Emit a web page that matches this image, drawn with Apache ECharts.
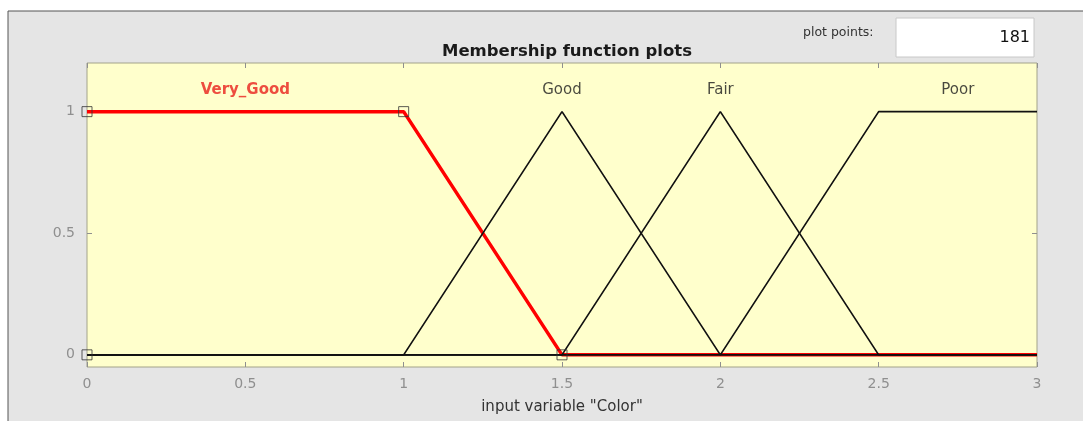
<!DOCTYPE html>
<html>
<head>
<meta charset="utf-8">
<script src="https://cdn.jsdelivr.net/npm/echarts@6.0.0/dist/echarts.min.js"></script>
<style>
  html, body { margin: 0; padding: 0; background: #fff; }
  #root { width: 1083px; height: 421px; }
</style>
</head>
<body>
<div id="root"></div>
<script>
// membership functions of input variable "Color"
const veryGood = [[0, 1], [1, 1], [1.5, 0], [3, 0]]
const good = [[0, 0], [1, 0], [1.5, 1], [2, 0], [3, 0]]
const fair = [[0, 0], [1.5, 0], [2, 1], [2.5, 0], [3, 0]]
const poor = [[0, 0], [2, 0], [2.5, 1], [3, 1]]
// handles of the selected MF
const handles = [[0, 0], [0, 1], [1, 1], [1.5, 0]]
// MF name labels
const mfNames = ['Good', 'Fair', 'Poor']
const mfLabelX = [1.5, 2, 2.75]
const selectedName = 'Very_Good'
const selectedLabelX = 0.5
const labelY = 1.087
const tickValues = [0, 0.5, 1]
const plotPoints = '181'

const font = '"DejaVu Sans", "Liberation Sans", Arial, sans-serif'
const tickColor = '#8f8f8f'
const frameColor = '#a3a38a'

const chart = echarts.init(document.getElementById('root'))

const blackLine = (name, data) => ({
  name,
  type: 'line',
  data,
  symbol: 'none',
  z: 3,
  lineStyle: { color: '#111', width: 1.7 },
  silent: true
})

const tick = { show: true, inside: true, length: 5, lineStyle: { color: tickColor } }

const option = {
  animation: false,
  backgroundColor: '#fff',
  graphic: [
    {
      type: 'rect',
      shape: { x: 8, y: 11, width: 1090, height: 420 },
      style: { fill: '#e5e5e5', stroke: '#555', lineWidth: 1 },
      z: -10
    },
    {
      type: 'text',
      left: 803, top: 26,
      style: { text: 'plot points:', fontFamily: font, fontSize: 12.5, fill: '#333' }
    },
    {
      type: 'rect',
      shape: { x: 896, y: 18, width: 138, height: 39 },
      style: { fill: '#fff', stroke: '#c8c8c8', lineWidth: 1 }
    },
    {
      type: 'text',
      right: 1083 - 1030, top: 30,
      style: { text: plotPoints, fontFamily: font, fontSize: 16, fill: '#111' }
    }
  ],
  title: {
    text: 'Membership function plots',
    left: 562,
    top: 38,
    textAlign: 'center',
    textStyle: { fontFamily: font, fontSize: 16.5, fontWeight: 'bold', color: '#1a1a1a' }
  },
  grid: {
    left: 87, right: 46, top: 63, bottom: 54,
    show: true,
    backgroundColor: '#ffffcc',
    borderColor: frameColor,
    borderWidth: 1
  },
  xAxis: [
    {
      type: 'value', min: 0, max: 3, interval: 0.5,
      name: 'input variable "Color"',
      nameLocation: 'middle',
      nameGap: 33,
      nameTextStyle: { fontFamily: font, fontSize: 15, color: '#333' },
      axisLine: { show: false, onZero: false },
      axisTick: tick,
      axisLabel: { fontFamily: font, fontSize: 14, color: tickColor, margin: 10 },
      splitLine: { show: false }
    },
    {
      type: 'value', min: 0, max: 3, interval: 0.5, position: 'top',
      axisLine: { show: false, onZero: false },
      axisTick: tick,
      axisLabel: { show: false },
      splitLine: { show: false }
    }
  ],
  yAxis: [
    {
      type: 'value', min: -0.05, max: 1.2,
      axisLine: { show: false, onZero: false },
      axisTick: Object.assign({ customValues: tickValues }, tick),
      axisLabel: { fontFamily: font, fontSize: 14, color: tickColor, margin: 12, customValues: tickValues },
      splitLine: { show: false }
    },
    {
      type: 'value', min: -0.05, max: 1.2, position: 'right',
      axisLine: { show: false, onZero: false },
      axisTick: Object.assign({ customValues: tickValues }, tick),
      axisLabel: { show: false },
      splitLine: { show: false }
    }
  ],
  series: [
    {
      name: selectedName,
      type: 'line',
      data: veryGood,
      symbol: 'none',
      z: 2,
      lineStyle: { color: '#ff0000', width: 3.5 },
      silent: true
    },
    blackLine('Good', good),
    blackLine('Fair', fair),
    blackLine('Poor', poor),
    {
      type: 'scatter',
      data: handles,
      symbol: 'rect',
      symbolSize: 10,
      z: 4,
      itemStyle: { color: 'rgba(0,0,0,0)', borderColor: '#333', borderWidth: 1 },
      silent: true
    },
    {
      type: 'scatter',
      data: mfNames.map((n, i) => ({ value: [mfLabelX[i], labelY], name: n })),
      symbolSize: 0,
      z: 5,
      label: {
        show: true,
        position: 'inside',
        formatter: p => p.name,
        fontFamily: font, fontSize: 15, color: '#1a1a1a'
      },
      silent: true
    },
    {
      type: 'scatter',
      data: [{ value: [selectedLabelX, labelY], name: selectedName }],
      symbolSize: 0,
      z: 5,
      label: {
        show: true,
        position: 'inside',
        formatter: p => p.name,
        fontFamily: font, fontSize: 15, fontWeight: 'bold', color: '#e8201c'
      },
      silent: true
    }
  ]
}

chart.setOption(option)
</script>
</body>
</html>
